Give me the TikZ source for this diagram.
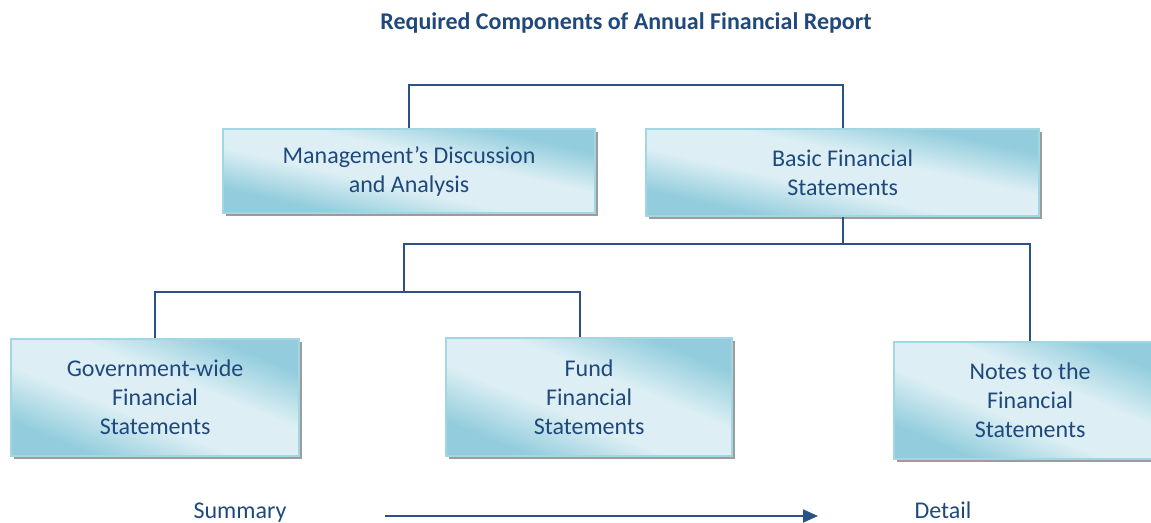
\documentclass[tikz,border=0pt]{standalone}
\usepackage{fontspec}
\setmainfont{Carlito}
\usetikzlibrary{arrows.meta}

\definecolor{linkblue}{HTML}{2A5286}
\definecolor{inkblue}{HTML}{1F497D}
\definecolor{boxdark}{HTML}{93CDDD}
\definecolor{boxlight}{HTML}{DDEFF4}
\definecolor{boxedge}{HTML}{A3D6E3}
\definecolor{shadowgray}{HTML}{9C9C9C}

% diagonal band: dark at two opposite corners, pale along the other diagonal
\pgfdeclarehorizontalshading{aquaband}{100bp}{%
  color(0bp)=(boxdark); color(25bp)=(boxdark); color(42bp)=(boxlight);
  color(58bp)=(boxlight); color(75bp)=(boxdark); color(100bp)=(boxdark)}

\tikzset{
  x=1pt, y=-1pt,
  compbox/.style={
    draw=boxedge, line width=2.2pt,
    align=center, text=inkblue, font=\fontsize{24}{29}\selectfont,
    inner sep=0pt, anchor=north west},
  tree/.style={draw=linkblue, line width=1.8pt},
  caption/.style={text=inkblue, font=\fontsize{24}{29}\selectfont, inner sep=0pt}
}

% \panelbox{name}{left}{top}{width}{height}{text}
\newcommand\panelbox[6]{%
  \fill[shadowgray] (#2+4,#3+4) rectangle ++(#4,#5);
  \begin{scope}[transform canvas={shift={(#2,#3+#5)}, xscale={#4/100}, yscale={#5/100}}]
    \shade[shading=aquaband, shading angle=45] (0pt,0pt) rectangle (100pt,100pt);
  \end{scope}
  \node[compbox, minimum width=#4pt, minimum height=#5pt] (#1) at (#2,#3) {#6};
}

\begin{document}
\begin{tikzpicture}
  \useasboundingbox (0,0) rectangle (1151,522);

  % heading
  \node[text=inkblue, font=\bfseries\fontsize{24}{29}\selectfont, inner sep=0pt]
    (title) at (626,23) {Required Components of Annual Financial Report};

  % component boxes
  \panelbox{mda}{222}{128}{372}{84}{Management’s Discussion\\and Analysis}
  \panelbox{bfs}{645}{128}{393}{87}{Basic Financial\\Statements}
  \panelbox{gov}{10}{338}{288}{117}{Government-wide\\Financial\\Statements}
  \panelbox{fund}{445}{337}{286}{118}{Fund\\Financial\\Statements}
  \panelbox{notes}{893}{341}{272}{117}{Notes to the\\Financial\\Statements}

  % tree connectors
  \coordinate (top) at (0,85);
  \coordinate (split) at (404,244);
  \coordinate (split2) at (404,292);
  \coordinate (fundtap) at ([xshift=-9pt]fund.north);

  \draw[tree] (mda.north) -- (mda.north |- top) -- (bfs.north |- top) -- (bfs.north);
  \draw[tree] (bfs.south) -- (bfs.south |- split);
  \draw[tree] (split2) -- (split) -- (split -| notes.north) -- (notes.north);
  \draw[tree] (gov.north) -- (gov.north |- split2) -- (fundtap |- split2) -- (fundtap);

  % summary-to-detail scale
  \node[caption, anchor=base] (summary) at (240,518) {Summary};
  \node[caption, anchor=base] (detail) at (943,518) {Detail};
  \coordinate (scalefrom) at (385,516);
  \coordinate (scaleto) at (818,516);
  \draw[draw=linkblue, line width=1.8pt, -{Triangle[length=15pt, width=13pt]}]
    (scalefrom) -- (scaleto);
\end{tikzpicture}
\end{document}
